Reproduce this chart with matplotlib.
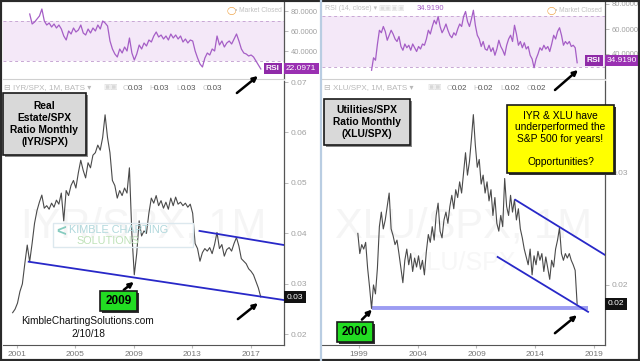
import matplotlib
matplotlib.use("Agg")
import matplotlib.pyplot as plt
from matplotlib.patches import Rectangle
import numpy as np

plt.rcParams['font.family'] = ['Liberation Sans', 'DejaVu Sans']

W, H = 640, 361
STEP = 1.0 / 6  # one sample every two monthly bars

# IYR/SPX ratio (monthly, sampled every 2 months)
iyr_start = 2000.70
iyr = [0.0243, 0.0250, 0.0262, 0.0285, 0.0300, 0.0340, 0.0377, 0.0344, 0.0380, 0.0420,
       0.0445, 0.0462, 0.0476, 0.0450, 0.0455, 0.0448, 0.0460, 0.0452, 0.0466, 0.0458,
       0.0480, 0.0425, 0.0485, 0.0475, 0.0495, 0.0505, 0.0490, 0.0520, 0.0545, 0.0525,
       0.0510, 0.0540, 0.0530, 0.0555, 0.0560, 0.0575, 0.0565, 0.0590, 0.0635, 0.0590,
       0.0560, 0.0505, 0.0495, 0.0470, 0.0485, 0.0475, 0.0490, 0.0480, 0.0530, 0.0400,
       0.0318, 0.0360, 0.0425, 0.0395, 0.0405, 0.0400, 0.0440, 0.0470, 0.0460, 0.0475,
       0.0455, 0.0465, 0.0450, 0.0462, 0.0448, 0.0470, 0.0455, 0.0472, 0.0458, 0.0462,
       0.0455, 0.0460, 0.0452, 0.0458, 0.0440, 0.0380, 0.0370, 0.0345, 0.0362, 0.0370,
       0.0365, 0.0372, 0.0360, 0.0378, 0.0402, 0.0370, 0.0378, 0.0355, 0.0368, 0.0372,
       0.0365, 0.0380, 0.0392, 0.0375, 0.0350, 0.0345, 0.0340, 0.0330, 0.0325, 0.0318,
       0.0305, 0.0292, 0.0274]

iyr_rsi_start = 2001.87
iyr_rsi = [77, 67, 69, 72, 75, 82, 70, 66, 68, 64, 67, 63, 66, 62, 55, 51, 60, 57, 63, 59,
           61, 66, 58, 56, 62, 58, 63, 60, 66, 62, 70, 68, 65, 50, 42, 37, 34, 42, 38, 44,
           40, 53, 38, 31, 37, 46, 42, 48, 45, 51, 49, 55, 59, 54, 56, 52, 55, 51, 57, 53,
           56, 52, 55, 49, 52, 48, 51, 50, 40, 33, 27, 24, 33, 38, 36, 42, 40, 55, 46, 50,
           44, 48, 50, 47, 52, 57, 50, 42, 38, 37, 35, 36, 34, 30, 26, 22]

# XLU/SPX ratio
xlu_start = 1998.90
xlu = [0.0246, 0.0228, 0.0236, 0.0232, 0.0238, 0.0215, 0.0198, 0.0179, 0.0200, 0.0192,
       0.0215, 0.0252, 0.0265, 0.0250, 0.0258, 0.0270, 0.0282, 0.0250, 0.0244, 0.0236,
       0.0240, 0.0228, 0.0215, 0.0202, 0.0222, 0.0232, 0.0218, 0.0228, 0.0212, 0.0224,
       0.0216, 0.0226, 0.0214, 0.0222, 0.0209, 0.0230, 0.0245, 0.0238, 0.0252, 0.0240,
       0.0262, 0.0273, 0.0248, 0.0242, 0.0258, 0.0265, 0.0255, 0.0270, 0.0280, 0.0268,
       0.0285, 0.0278, 0.0292, 0.0282, 0.0300, 0.0318, 0.0298, 0.0310, 0.0330, 0.0352,
       0.0325, 0.0305, 0.0312, 0.0290, 0.0298, 0.0282, 0.0292, 0.0275, 0.0285, 0.0262,
       0.0278, 0.0255, 0.0248, 0.0262, 0.0252, 0.0295, 0.0270, 0.0262, 0.0280, 0.0265,
       0.0276, 0.0258, 0.0268, 0.0250, 0.0242, 0.0232, 0.0225, 0.0218, 0.0232, 0.0209,
       0.0226, 0.0218, 0.0230, 0.0222, 0.0228, 0.0212, 0.0225, 0.0215, 0.0205, 0.0222,
       0.0216, 0.0232, 0.0240, 0.0251, 0.0228, 0.0222, 0.0228, 0.0224, 0.0228, 0.0222,
       0.0218, 0.0213, 0.0183]

xlu_rsi_start = 2000.07
xlu_rsi = [27, 37, 35, 48, 59, 57, 62, 58, 51, 55, 59, 56, 52, 50, 54, 46, 43, 48, 45, 47,
           43, 48, 45, 42, 46, 44, 48, 47, 52, 59, 56, 62, 67, 64, 70, 62, 57, 60, 64, 59,
           55, 53, 57, 55, 60, 64, 62, 70, 74, 66, 62, 68, 75, 63, 55, 52, 46, 50, 44, 43,
           47, 42, 45, 39, 44, 51, 46, 43, 39, 47, 52, 55, 50, 63, 56, 47, 50, 45, 49, 44,
           46, 39, 36, 29, 36, 40, 45, 43, 47, 44, 46, 42, 48, 55, 52, 58, 61, 55, 47, 50,
           48, 50, 46, 47, 45, 33]

iyr_rsi_last = 22.0971
xlu_rsi_last = 34.9190

left_years = [2001, 2005, 2009, 2013, 2017]
right_years = [1999, 2004, 2009, 2014, 2019]
left_price_ticks = [0.02, 0.03, 0.04, 0.05, 0.06, 0.07]
right_price_ticks = [0.02, 0.03]
rsi_ticks = [40, 60, 80]

# trendlines drawn on the charts: (years, values)
iyr_support = ([2001.8, 2019.3], [0.0344, 0.0268])
iyr_resist = ([2013.5, 2019.3], [0.0405, 0.0377])
xlu_upper = ([2012.3, 2019.9], [0.0276, 0.0227])
xlu_lower = ([2010.8, 2018.5], [0.0225, 0.0176])
xlu_floor = ([2000.1, 2018.5], [0.0179, 0.0179])


def xs(start, vals):
    return start + np.arange(len(vals)) * STEP


fig = plt.figure(figsize=(W / 100, H / 100), dpi=100)
fig.patch.set_facecolor('white')


def px_axes(x0, y0, x1, y1):
    ax = fig.add_axes([x0 / W, 1 - y1 / H, (x1 - x0) / W, (y1 - y0) / H])
    ax.set_facecolor('none')
    return ax


def ftext(x, y, s, **kw):
    kw.setdefault('va', 'center')
    return fig.text(x / W, 1 - y / H, s, **kw)


def frect(x0, y0, x1, y1, **kw):
    r = Rectangle((x0 / W, 1 - y1 / H), (x1 - x0) / W, (y1 - y0) / H,
                  transform=fig.transFigure, **kw)
    fig.patches.append(r)
    return r


def style(ax, xlim, ylim, fmt, lsize=6):
    ax.set_xlim(*xlim)
    ax.set_ylim(*ylim)
    ax.spines['top'].set_visible(False)
    ax.spines['left'].set_visible(False)
    ax.spines['right'].set_color('#555555')
    ax.spines['right'].set_linewidth(0.9)
    ax.spines['bottom'].set_color('#d0d0d0')
    ax.yaxis.tick_right()
    ax.tick_params(axis='y', colors='#b0b0b0', labelcolor='#a0a0a0', labelsize=lsize,
                   length=3, width=0.6, pad=2)
    ax.yaxis.set_major_formatter(matplotlib.ticker.FormatStrFormatter(fmt))


def rsi_panel(ax, start, vals, last, xlim, ylim):
    style(ax, xlim, ylim, '%.4f', lsize=5.4)
    ax.axhspan(30, 70, color='#f4e8f8', lw=0)
    ax.axhline(30, color='#c8a8d4', lw=0.7, ls=(0, (3, 3)))
    ax.axhline(70, color='#c8a8d4', lw=0.7, ls=(0, (3, 3)))
    ax.plot(xs(start, vals), vals, color='#a55ec6', lw=0.9)
    ax.set_yticks(rsi_ticks)
    ax.set_xticks([])
    ax.annotate('RSI', xy=(1, last), xycoords=('axes fraction', 'data'),
                xytext=(-3, 0), textcoords='offset points', ha='right', va='center',
                fontsize=6, color='white', fontweight='bold',
                bbox=dict(boxstyle='square,pad=0.25', fc='#8f2aa8', ec='none'))
    ax.annotate('%.4f' % last, xy=(1, last), xycoords=('axes fraction', 'data'),
                xytext=(1.5, 0), textcoords='offset points', ha='left', va='center',
                fontsize=6, color='white', annotation_clip=False,
                bbox=dict(boxstyle='square,pad=0.25', fc='#9a30b2', ec='none'))


def main_panel(ax, start, vals, xlim, ylim, yticks, years):
    style(ax, xlim, ylim, '%.2f')
    ax.spines['bottom'].set_color('#555555')
    ax.plot(xs(start, vals), vals, color='#4a4a4a', lw=0.8, zorder=3)
    ax.set_yticks(yticks)
    ax.set_xticks(years)
    ax.set_xticklabels([str(y) for y in years])
    ax.tick_params(axis='x', colors='#bbbbbb', labelcolor='#777777', labelsize=6,
                   length=2, pad=2)
    ax.annotate('%.2f' % vals[-1], xy=(1, vals[-1]), xycoords=('axes fraction', 'data'),
                xytext=(2, 0), textcoords='offset points', ha='left', va='center',
                fontsize=6, color='white', annotation_clip=False,
                bbox=dict(boxstyle='square,pad=0.3', fc='#111111', ec='none'))


def arrow(ax, x, y, dx, dy):
    ax.annotate('', xy=(x, y), xytext=(dx, dy), textcoords='offset pixels',
                annotation_clip=False,
                arrowprops=dict(arrowstyle='-|>', color='black', lw=1.8,
                                mutation_scale=7, shrinkA=0, shrinkB=0))


def box(x0, y0, x1, y1, fc, text, weight='bold', size=7.4, shadow='#8a8a8a', ls=1.15):
    frect(x0 + 2, y0 + 2, x1 + 2, y1 + 2, fc=shadow, ec='none', zorder=5)
    frect(x0, y0, x1, y1, fc=fc, ec='#1a1a1a', lw=1.2, zorder=6)
    t = ftext((x0 + x1) / 2, (y0 + y1) / 2, text, ha='center', fontsize=size,
              fontweight=weight, multialignment='center', linespacing=ls, zorder=7)
    return t


left_x = (2000.04, 2019.29)
right_x = (1995.85, 2019.94)

# ---- left: IYR/SPX
ax_lr = px_axes(3, 2, 284, 79)
rsi_panel(ax_lr, iyr_rsi_start, iyr_rsi, iyr_rsi_last, left_x, (12, 89))
ax_lm = px_axes(3, 81, 284, 345)
main_panel(ax_lm, iyr_start, iyr, left_x, (0.0179, 0.0702), left_price_ticks, left_years)
ax_lm.plot(*iyr_support, color='#2828c8', lw=1.3, zorder=4)
ax_lm.plot(*iyr_resist, color='#2828c8', lw=1.3, zorder=4)

# ---- right: XLU/SPX
ax_rr = px_axes(322, 2, 605, 79)
rsi_panel(ax_rr, xlu_rsi_start, xlu_rsi, xlu_rsi_last, right_x, (20, 81.6))
ax_rm = px_axes(322, 81, 605, 345)
main_panel(ax_rm, xlu_start, xlu, right_x, (0.01464, 0.0382), right_price_ticks, right_years)
ax_rm.plot(*xlu_floor, color='#9c9cf2', lw=2.8, zorder=2, solid_capstyle='butt')
ax_rm.plot(*xlu_upper, color='#2828c8', lw=1.3, zorder=4)
ax_rm.plot(*xlu_lower, color='#2828c8', lw=1.3, zorder=4)

# big faint watermarks
ax_lm.text(0.5, 0.45, 'IYR/SPX, 1M', transform=ax_lm.transAxes, ha='center', va='center',
           fontsize=30, color='#f5f5f5', zorder=0)
ax_rm.text(0.5, 0.45, 'XLU/SPX, 1M', transform=ax_rm.transAxes, ha='center', va='center',
           fontsize=30, color='#f5f5f5', zorder=0)
ax_rm.text(0.5, 0.31, 'XLU/SPX', transform=ax_rm.transAxes, ha='center', va='center',
           fontsize=18, color='#f7f7f7', zorder=0)

# legend/header lines
for x0, sym, vals, xo in [(4, 'IYR/SPX', '0.03', 123), (324, 'XLU/SPX', '0.02', 447)]:
    ftext(x0, 88, '⊟ ' + sym + ', 1M, BATS ▾', fontsize=5.8, color='#b8b8b8')
    ftext(xo - 20, 88, '▣▣', fontsize=5.5, color='#d8d8d8')
    for k, letter in enumerate('OHLC'):
        ftext(xo + k * 26.5, 88, letter, fontsize=5.8, color='#c8c8c8')
        ftext(xo + 4.5 + k * 26.5, 88, vals, fontsize=5.8, color='#555555')

ftext(325, 9, 'RSI (14, close) ▾', fontsize=5, color='#c0c0c0')
ftext(378, 9, '▣▣▣▣', fontsize=5, color='#dddddd')
ftext(417, 9, '%.4f' % xlu_rsi_last, fontsize=5.5, color='#a55ec6')
for xm in (227, 547):
    ftext(xm, 11, '◯', fontsize=6, color='#f0a040')
    ftext(xm + 8, 11, '• Market Closed', fontsize=4.8, color='#c0c0c0')

# logo watermark
frect(53, 223, 193, 247, fill=False, ec='#dce8ee', lw=1.0, zorder=2)
ftext(56, 232, '<', fontsize=12, color='#86cbbf', fontweight='bold', zorder=2)
ftext(69, 230, 'KIMBLE CHARTING', fontsize=7.8, color='#b0d8dc', zorder=2)
ftext(76, 241, 'SOLUTIONS', fontsize=7.8, color='#bfe2b8', zorder=2)

# text boxes
box(3, 93, 86, 155, '#d9d9d9', 'Real\nEstate/SPX\nRatio Monthly\n(IYR/SPX)', ls=1.25)
box(324, 99, 410, 145, '#d9d9d9', 'Utilities/SPX\nRatio Monthly\n(XLU/SPX)', ls=1.25)
box(507, 105, 614, 173, '#ffff00',
    'IYR & XLU have\nunderperformed the\nS&P 500 for years!\n\nOpportunities?',
    weight='normal', shadow='#333333', ls=1.2)
box(100, 291, 137, 311, '#22dd22', '2009', size=8.5, shadow='#333333')
box(337, 322, 373, 342, '#22dd22', '2000', size=8.5, shadow='#333333')

ftext(88, 321, 'KimbleChartingSolutions.com', ha='center', fontsize=7.3, color='#111111')
ftext(88, 334, '2/10/18', ha='center', fontsize=7.3, color='#111111')

# arrows
arrow(ax_lr, 2017.5, 15, -21, -17)
arrow(ax_lm, 2009.0, 0.0304, -10, -8)
arrow(ax_lm, 2017.5, 0.0262, -20, -16)
arrow(ax_rr, 2017.64, 27.2, -23, -20)
arrow(ax_rm, 2017.55, 0.0173, -22, -18)
arrow(ax_rm, 2000.1, 0.0178, -10, -10)

# separators and frame
fig.add_artist(plt.Line2D([320.5 / W, 320.5 / W], [0, 1], transform=fig.transFigure,
                          color='#b9cde2', lw=1.6))
fig.add_artist(Rectangle((0, 0), 1, 1, transform=fig.transFigure, fill=False,
                         ec='#2a2a2a', lw=3))

fig.savefig('out.png', dpi=100)
